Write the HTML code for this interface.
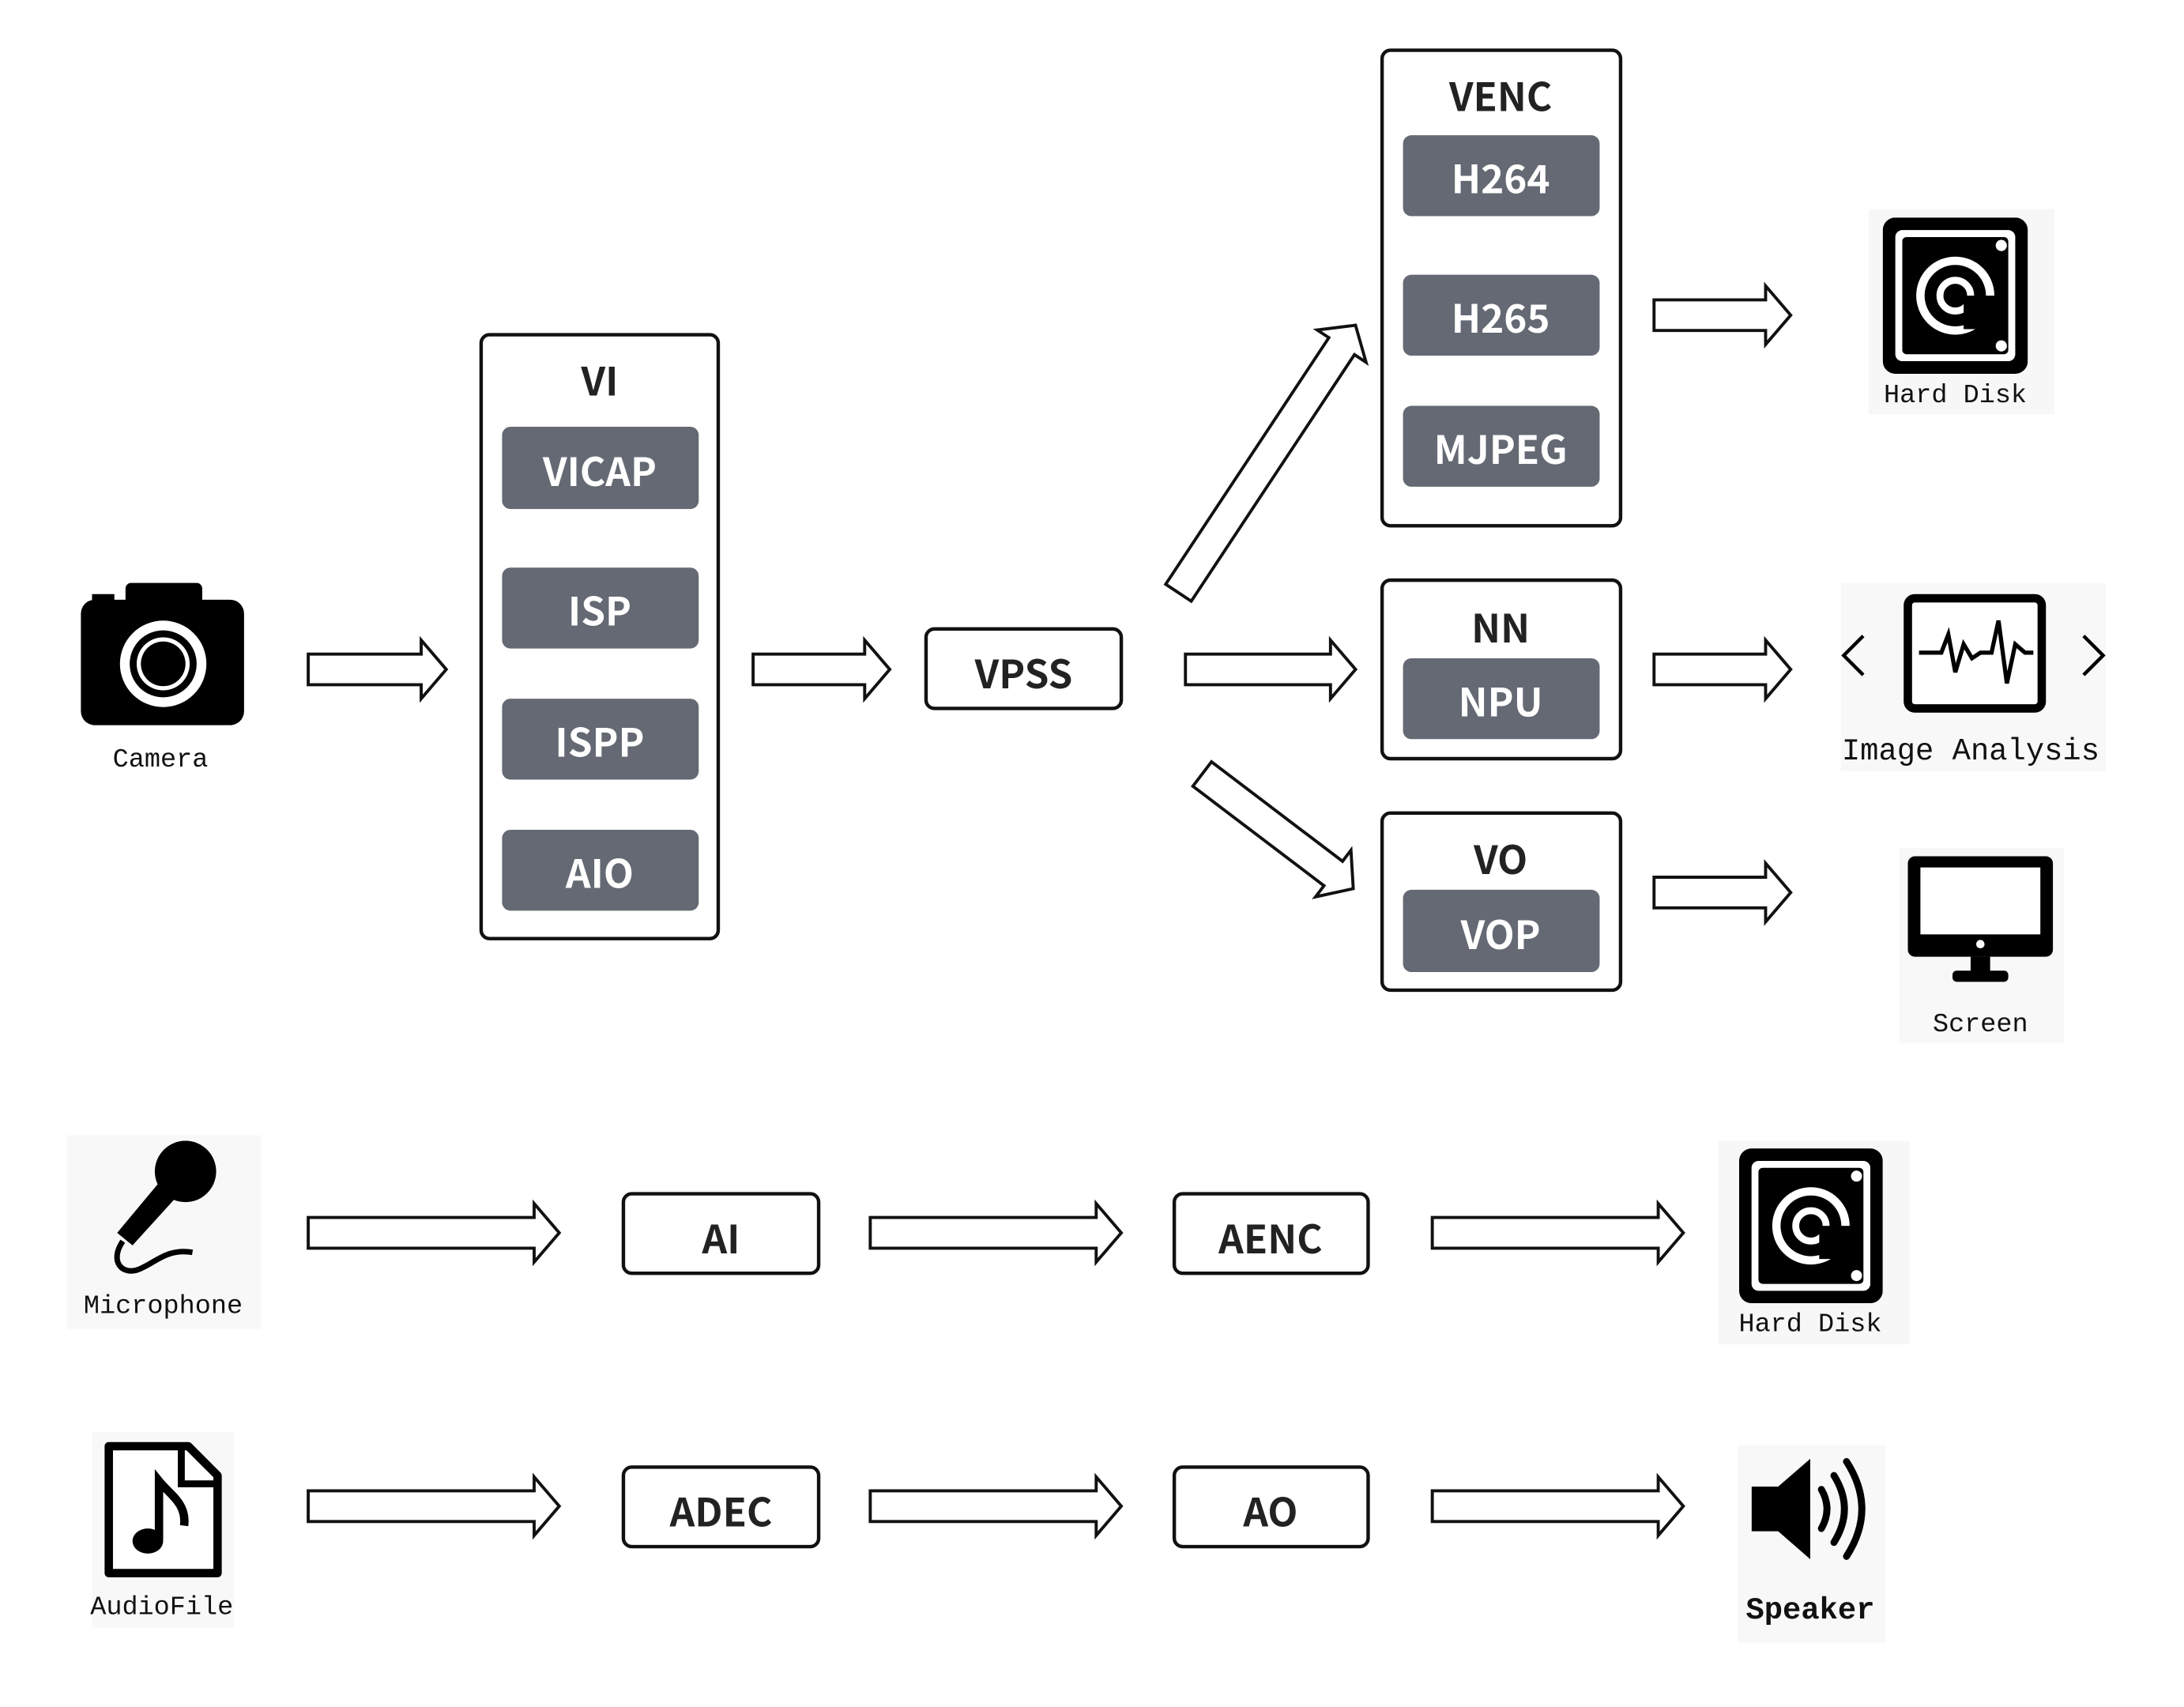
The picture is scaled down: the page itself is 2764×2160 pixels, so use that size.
<!DOCTYPE html>
<html><head><meta charset="utf-8"><style>
html,body{margin:0;padding:0;background:#fff;}
svg{display:block;}
.bt{font-family:"Noto Sans CJK SC","Liberation Sans",sans-serif;font-weight:bold;font-size:28px;text-anchor:middle;dominant-baseline:central;}
.lb{font-family:"Liberation Mono",monospace;font-size:19px;text-anchor:middle;dominant-baseline:central;fill:#111;}
.box{fill:#fff;stroke:#111;stroke-width:2.5;}
.inner{fill:#646973;}
.arr{fill:#fff;stroke:#111;stroke-width:2.2;}
</style></head><body>
<svg width="2764" height="2160" viewBox="0 0 1566 1224" preserveAspectRatio="none" xmlns="http://www.w3.org/2000/svg">
<defs>
<symbol id="disk" viewBox="0 0 104 112">
<rect x="0" y="0" width="104" height="112" rx="9" fill="#000"/>
<rect x="9" y="9" width="86" height="94" rx="5" fill="#fff"/>
<rect x="14" y="14" width="76" height="84" rx="3" fill="#000"/>
<circle cx="52" cy="56" r="25" fill="none" stroke="#fff" stroke-width="6"/>
<circle cx="52" cy="56" r="11" fill="none" stroke="#fff" stroke-width="5"/>
<rect x="58" y="56" width="26" height="24" fill="#000"/>
<circle cx="85" cy="20" r="4" fill="#fff"/>
<circle cx="85" cy="92" r="4" fill="#fff"/>
</symbol>
</defs>

<!-- Camera -->
<rect x="58" y="430" width="117" height="90" rx="10" fill="#000"/>
<rect x="90" y="418" width="55" height="20" rx="4" fill="#000"/>
<rect x="66" y="426" width="16" height="10" fill="#000"/>
<circle cx="117" cy="476" r="31" fill="#fff"/>
<circle cx="117" cy="476" r="24" fill="#000"/>
<circle cx="117" cy="476" r="19" fill="#fff"/>
<circle cx="117" cy="476" r="16" fill="#000"/>
<text class="lb" x="115" y="545">Camera</text>

<!-- arrows horizontal -->
<g class="arr">
<polygon transform="translate(221,480)" points="0,-11 81,-11 81,-21 99,0 81,21 81,11 0,11"/>
<polygon transform="translate(540,480)" points="0,-11 80,-11 80,-21 98,0 80,21 80,11 0,11"/>
<polygon transform="translate(850,480)" points="0,-11 104,-11 104,-21 122,0 104,21 104,11 0,11"/>
<polygon transform="translate(845,425) rotate(-56.5)" points="0,-11 212,-11 212,-21 230,0 212,21 212,11 0,11"/>
<polygon transform="translate(862,555) rotate(37.2)" points="0,-11 118,-11 118,-21 136,0 118,21 118,11 0,11"/>
<polygon transform="translate(1186,226)" points="0,-11 80,-11 80,-21 98,0 80,21 80,11 0,11"/>
<polygon transform="translate(1186,480)" points="0,-11 80,-11 80,-21 98,0 80,21 80,11 0,11"/>
<polygon transform="translate(1186,640)" points="0,-11 80,-11 80,-21 98,0 80,21 80,11 0,11"/>
<polygon transform="translate(221,884)" points="0,-11 162,-11 162,-21 180,0 162,21 162,11 0,11"/>
<polygon transform="translate(624,884)" points="0,-11 162,-11 162,-21 180,0 162,21 162,11 0,11"/>
<polygon transform="translate(1027,884)" points="0,-11 162,-11 162,-21 180,0 162,21 162,11 0,11"/>
<polygon transform="translate(221,1080)" points="0,-11 162,-11 162,-21 180,0 162,21 162,11 0,11"/>
<polygon transform="translate(624,1080)" points="0,-11 162,-11 162,-21 180,0 162,21 162,11 0,11"/>
<polygon transform="translate(1027,1080)" points="0,-11 162,-11 162,-21 180,0 162,21 162,11 0,11"/>
</g>

<!-- VI -->
<rect class="box" x="345" y="240" width="170" height="433" rx="6"/>
<text class="bt" x="430" y="272" fill="#222">VI</text>
<rect class="inner" x="360" y="306" width="141" height="59" rx="6"/><text class="bt" x="430" y="337" fill="#fff">VICAP</text>
<rect class="inner" x="360" y="407" width="141" height="58" rx="6"/><text class="bt" x="430" y="437" fill="#fff">ISP</text>
<rect class="inner" x="360" y="501" width="141" height="58" rx="6"/><text class="bt" x="430" y="531" fill="#fff">ISPP</text>
<rect class="inner" x="360" y="595" width="141" height="58" rx="6"/><text class="bt" x="430" y="625" fill="#fff">AIO</text>

<!-- VPSS -->
<rect class="box" x="664" y="451" width="140" height="57" rx="6"/>
<text class="bt" x="734" y="482" fill="#222">VPSS</text>

<!-- VENC -->
<rect class="box" x="991" y="36" width="171" height="341" rx="6"/>
<text class="bt" x="1076" y="68" fill="#222">VENC</text>
<rect class="inner" x="1006" y="97" width="141" height="58" rx="6"/><text class="bt" x="1076" y="127" fill="#fff">H264</text>
<rect class="inner" x="1006" y="197" width="141" height="58" rx="6"/><text class="bt" x="1076" y="227" fill="#fff">H265</text>
<rect class="inner" x="1006" y="291" width="141" height="58" rx="6"/><text class="bt" x="1076" y="321" fill="#fff">MJPEG</text>

<!-- NN -->
<rect class="box" x="991" y="416" width="171" height="128" rx="6"/>
<text class="bt" x="1076" y="449" fill="#222">NN</text>
<rect class="inner" x="1006" y="472" width="141" height="58" rx="6"/><text class="bt" x="1076" y="502" fill="#fff">NPU</text>

<!-- VO -->
<rect class="box" x="991" y="583" width="171" height="127" rx="6"/>
<text class="bt" x="1076" y="615" fill="#222">VO</text>
<rect class="inner" x="1006" y="638" width="141" height="59" rx="6"/><text class="bt" x="1076" y="669" fill="#fff">VOP</text>

<!-- Hard disk top -->
<rect x="1340" y="150" width="133" height="147" fill="#f7f7f7"/>
<use href="#disk" x="1350" y="156" width="104" height="112"/>
<text class="lb" x="1402" y="284">Hard Disk</text>

<!-- Image Analysis -->
<rect x="1320" y="418" width="190" height="135" fill="#f8f8f8"/>
<rect x="1368" y="429" width="96" height="79" rx="5" fill="#fff" stroke="#000" stroke-width="6"/>
<polyline points="1376,468 1392,468 1397,455 1402,482 1408,462 1414,472 1420,468 1428,468 1433,445 1439,490 1445,462 1452,468 1458,468" fill="none" stroke="#000" stroke-width="3"/>
<polyline points="1336,456 1322,470 1336,484" fill="none" stroke="#000" stroke-width="2.5"/>
<polyline points="1494,456 1508,470 1494,484" fill="none" stroke="#000" stroke-width="2.5"/>
<text class="lb" x="1413" y="539" style="font-size:22px">Image Analysis</text>

<!-- Screen -->
<rect x="1362" y="608" width="118" height="140" fill="#f8f8f8"/>
<rect x="1368" y="614" width="104" height="72" rx="5" fill="#000"/>
<rect x="1377" y="622" width="86" height="48" fill="#fff"/>
<circle cx="1420" cy="677" r="3" fill="#fff"/>
<rect x="1413" y="686" width="14" height="12" fill="#000"/>
<rect x="1400" y="696" width="40" height="8" rx="3" fill="#000"/>
<text class="lb" x="1420" y="735">Screen</text>

<!-- Microphone -->
<rect x="48" y="814" width="139" height="139" fill="#f8f8f8"/>
<circle cx="133" cy="840" r="22" fill="#000"/>
<polygon points="114,848 125,860 95,893 84,884" fill="#000"/>
<path d="M88,890 C78,905 88,915 100,910 C112,905 120,895 138,898" fill="none" stroke="#000" stroke-width="4"/>
<text class="lb" x="117" y="937">Microphone</text>

<rect class="box" x="447" y="856" width="140" height="57" rx="6"/>
<text class="bt" x="517" y="887" fill="#222">AI</text>
<rect class="box" x="842" y="856" width="139" height="57" rx="6"/>
<text class="bt" x="911" y="887" fill="#222">AENC</text>

<rect x="1232" y="818" width="137" height="146" fill="#f7f7f7"/>
<use href="#disk" x="1247" y="823" width="103" height="112"/>
<text class="lb" x="1298" y="950">Hard Disk</text>

<!-- AudioFile -->
<rect x="66" y="1027" width="102" height="140" fill="#f8f8f8"/>
<path d="M78,1037 L135,1037 L156,1058 L156,1128 L78,1128 Z" fill="#fff" stroke="#000" stroke-width="6" stroke-linejoin="round"/>
<path d="M130,1037 L130,1064 L156,1064" fill="none" stroke="#000" stroke-width="5"/>
<ellipse cx="106" cy="1105" rx="11" ry="9" fill="#000"/>
<path d="M114,1104 L114,1062 C122,1072 134,1078 132,1094" fill="none" stroke="#000" stroke-width="6"/>
<text class="lb" x="116" y="1153">AudioFile</text>

<rect class="box" x="447" y="1052" width="140" height="57" rx="6"/>
<text class="bt" x="517" y="1083" fill="#222">ADEC</text>
<rect class="box" x="842" y="1052" width="139" height="57" rx="6"/>
<text class="bt" x="911" y="1083" fill="#222">AO</text>

<!-- Speaker -->
<rect x="1246" y="1036" width="106" height="142" fill="#f8f8f8"/>
<polygon points="1256,1066 1275,1066 1298,1046 1298,1118 1275,1098 1256,1098" fill="#000"/>
<path d="M1306,1068 Q1314,1082 1306,1096" fill="none" stroke="#000" stroke-width="5" stroke-linecap="round"/>
<path d="M1315,1058 Q1330,1082 1315,1106" fill="none" stroke="#000" stroke-width="5" stroke-linecap="round"/>
<path d="M1324,1048 Q1346,1082 1324,1116" fill="none" stroke="#000" stroke-width="5" stroke-linecap="round"/>
<text class="lb" x="1298" y="1155" style="font-weight:bold;font-size:22px">Speaker</text>
</svg>
</body></html>
